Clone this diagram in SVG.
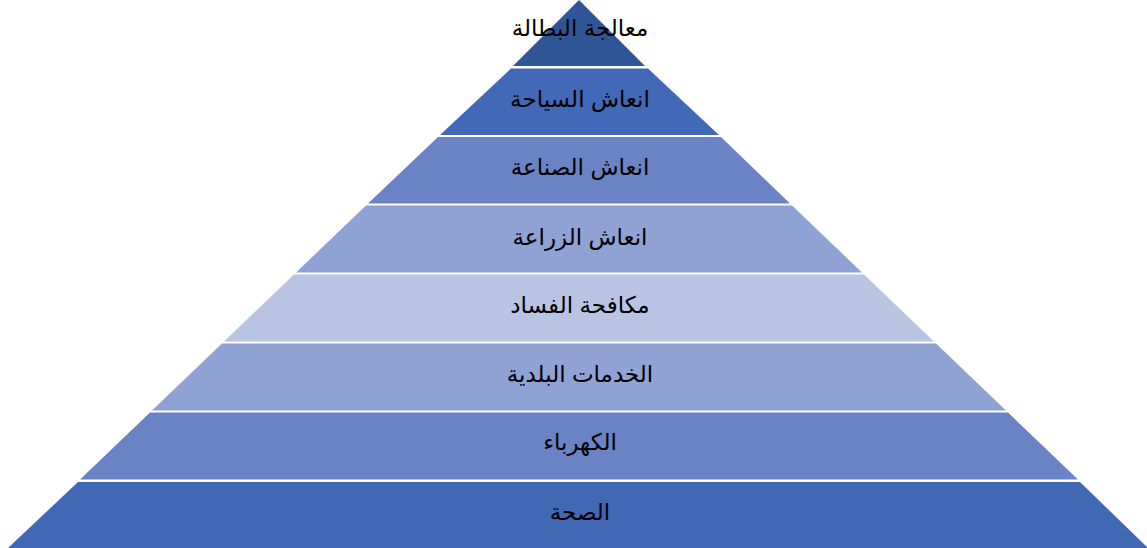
<svg xmlns="http://www.w3.org/2000/svg" width="1147" height="548" viewBox="0 0 1147 548">
<style>
text{font-family:"Liberation Sans","DejaVu Sans",sans-serif;font-size:23px;fill:#000;text-anchor:middle;dominant-baseline:central}
</style>
<rect width="1147" height="548" fill="#fff"/>
<g id="n1"><polygon points="579,0 645,66 513,66" fill="#2F5597"/><text x="580" y="28">معالجة البطالة</text></g>
<g id="n2"><polygon points="511,68.5 648,68.5 719,135 440,135" fill="#4169B8"/><text x="580" y="99">انعاش السياحة</text></g>
<g id="n3"><polygon points="438,137 721,137 790,203.5 368,203.5" fill="#6983C5"/><text x="580" y="167">انعاش الصناعة</text></g>
<g id="n4"><polygon points="366,205.5 792,205.5 862,272.5 296,272.5" fill="#8FA2D4"/><text x="580" y="237">انعاش الزراعة</text></g>
<g id="n5"><polygon points="294,274.5 864,274.5 934,341.5 224,341.5" fill="#B8C4E2"/><text x="580" y="305">مكافحة الفساد</text></g>
<g id="n6"><polygon points="222,343.5 936,343.5 1006,410.5 152,410.5" fill="#8FA2D4"/><text x="580" y="374">الخدمات البلدية</text></g>
<g id="n7"><polygon points="150,412.5 1008,412.5 1078,479.5 80,479.5" fill="#6983C5"/><text x="580" y="442">الكهرباء</text></g>
<g id="n8"><polygon points="78,482 1080,482 1148,548 8,548" fill="#4068B5"/><text x="580" y="512">الصحة</text></g>
<g id="connectors"></g>
</svg>
